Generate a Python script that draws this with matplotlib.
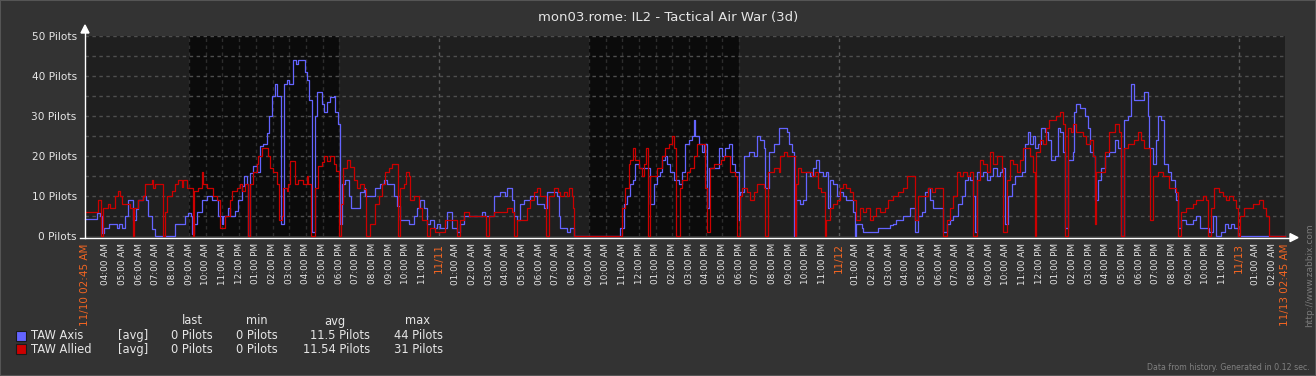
import datetime as dt
import matplotlib
matplotlib.use('Agg')
import matplotlib.pyplot as plt
from matplotlib.patches import Rectangle, Polygon
from matplotlib.lines import Line2D

W, H = 1316, 376
START = dt.datetime(2015, 11, 10, 2, 45)
SPAN_H = 72

title = 'mon03.rome: IL2 - Tactical Air War (3d)'

# hours since 11/10 02:45 AM, pilots (step breakpoints)
axis_t = [0, 0.7, 0.9, 1.04, 1.16, 1.44, 1.9, 2.04, 2.2, 2.4, 2.56, 2.9, 3.04, 3.16, 3.5,
          3.64, 3.8, 4.0, 4.2, 5.4, 6.0, 6.16, 6.36, 6.44, 6.54, 6.7, 7.0, 7.3, 7.6, 8.0,
          8.2, 8.3, 8.6, 8.7, 9.0, 9.2, 9.4, 9.56, 9.7, 9.8, 9.9, 10.1, 10.3, 10.5, 10.7,
          10.9, 11.06, 11.24, 11.4, 11.5, 11.76, 11.96, 12.1, 12.24, 12.5, 12.66, 12.8,
          13.2, 13.34, 13.46, 13.6, 13.8, 13.94, 14.2, 14.32, 14.52, 14.72, 14.92, 15.02,
          15.16, 15.28, 15.42, 15.62, 15.82, 15.96, 16.48, 16.72, 16.82, 17.42, 17.72,
          17.92, 18.12, 18.52, 18.72, 18.88, 19.42, 19.72, 19.92, 20.12, 20.32, 20.52,
          20.72, 20.92, 21.12, 21.32, 21.72, 22.02, 22.32, 22.52, 22.72, 23.82, 24.02,
          24.52, 24.92, 25.22, 25.32, 25.62, 25.72, 25.92, 26.12, 26.36, 26.72, 27.12,
          27.52, 27.72, 28.32, 28.42, 28.52, 28.92, 29.1, 29.35, 32.11, 32.31, 32.51,
          32.71, 32.87, 33.02, 33.22, 33.92, 34.12, 34.32, 34.52, 34.62, 34.82, 34.92,
          35.12, 35.32, 35.62, 35.82, 36.02, 36.22, 36.42, 36.52, 36.62, 36.82, 37.02,
          37.12, 37.33, 37.43, 38.03, 38.23, 38.43, 38.63, 38.83, 39.03, 39.23, 39.33,
          39.53, 39.83, 40.13, 40.33, 40.53, 40.73, 40.83, 41.03, 41.33, 41.63, 42.13,
          42.23, 42.4, 42.55, 42.69, 42.89, 43.09, 43.29, 43.49, 43.69, 43.89, 44.05,
          44.29, 44.49, 44.59, 44.69, 44.89, 45.09, 45.29, 45.49, 45.69, 46.09, 46.19,
          46.29, 46.59, 46.69, 47.59, 48.29, 48.49, 48.69, 49.09, 49.49, 49.82, 50.0,
          50.2, 50.4, 50.6, 50.7, 50.9, 51.5, 51.7, 51.9, 52.1, 52.4, 52.6, 52.8, 53.0,
          53.1, 53.3, 53.4, 53.5, 53.7, 53.9, 54.1, 54.3, 54.5, 54.7, 54.9, 55.0, 55.2,
          55.4, 55.6, 55.8, 56.2, 56.4, 56.6, 56.7, 56.87, 56.97, 57.17, 57.37, 57.57,
          57.77, 57.97, 58.17, 58.37, 58.47, 58.67, 58.77, 58.97, 59.27, 59.37, 59.47,
          59.67, 59.97, 60.17, 60.27, 60.47, 60.57, 60.77, 60.97, 61.17, 61.47, 61.77,
          61.97, 62.17, 62.37, 62.57, 62.77, 62.97, 63.57, 63.77, 63.87, 64.07, 64.27,
          64.37, 64.57, 64.77, 64.97, 65.17, 65.37, 65.47, 65.57, 65.77, 66.07, 66.47,
          66.67, 66.87, 67.47, 67.67, 67.87, 68.17, 68.37, 68.57, 68.77, 68.97, 69.17, 72]
axis_v = [4.2, 5.8, 5, 0.9, 2, 3, 2, 3, 2, 5, 9, 4, 6.7, 9, 10,
          9, 5, 1.7, 0, 3, 5, 5.8, 5, 0.5, 3, 6, 9, 10, 9, 5,
          3, 5, 7, 5, 6.3, 9, 12.5, 15, 13, 0, 15.8, 17.5, 16, 22.5, 23,
          25.8, 30, 35, 38, 35, 3, 38, 39, 38, 44, 43, 44,
          41, 39, 34, 1, 30, 36, 33, 31, 33.4, 34.7, 35, 31,
          28, 3, 13, 14, 10, 7, 11, 12, 10, 12, 13,
          14, 13, 10, 7.6, 4, 3, 5, 7, 9, 7, 3,
          4, 2, 3, 2, 6, 2, 1, 3, 5, 6, 5,
          10, 11, 10, 12, 9, 5, 4, 8, 9, 10, 8,
          7, 11, 10, 5, 2, 1, 2, 0, 2, 8, 10,
          13, 14, 18, 17, 8, 13, 15, 16, 19, 20, 18,
          16, 14, 13, 16, 23, 24, 25, 29, 25, 23, 21,
          23, 7, 17, 22, 20, 22, 23, 18, 16, 4, 11,
          20, 21, 20, 25, 24, 22, 12, 21, 23, 27, 26,
          23, 21, 0, 9, 8, 9, 16, 15, 17, 19, 16,
          15, 16, 7, 14, 13, 10, 11, 10, 9, 6, 0,
          3, 2, 1, 2, 2.7, 3, 4, 5, 7, 1, 5,
          6, 11, 12, 9, 7, 1, 3, 4, 5, 8, 10, 14, 15,
          14, 10, 1, 16, 15, 16, 14, 15, 17, 15, 16, 17, 3,
          10, 13, 15, 16, 23, 26, 23, 25, 22, 23, 27, 26,
          24, 19, 20, 27, 26, 21, 2, 19, 21, 31, 33,
          32, 30, 27, 21, 20, 9, 14, 17, 20, 21, 24,
          22, 0, 29, 30, 38, 34, 36, 30, 22, 18, 24,
          30, 29, 18, 16, 14, 11, 9, 2, 4, 3, 4,
          5, 2, 1, 5, 0, 1, 3, 2, 3, 2, 0, 0]

allied_t = [0, 0.8, 0.98, 1.06, 1.36, 1.5, 1.8, 1.96, 2.1, 2.2, 2.7, 2.86, 2.96, 3.2, 3.5,
            3.6, 4.0, 4.1, 4.2, 4.66, 4.8, 4.9, 5.24, 5.4, 5.6, 5.8, 5.9, 6.1, 6.46, 6.56,
            6.8, 7.0, 7.1, 7.3, 7.7, 7.9, 8.1, 8.4, 8.7, 8.8, 9.1, 9.3, 9.4, 9.6, 9.8, 9.9,
            10.1, 10.3, 10.4, 10.6, 10.96, 11.1, 11.3, 11.5, 11.64, 11.8, 11.9, 12.1, 12.2,
            12.3, 12.6, 12.8, 13.1, 13.3, 13.4, 13.56, 13.8, 14.0, 14.2, 14.32, 14.52,
            14.72, 14.92, 15.08, 15.22, 15.36, 15.48, 15.72, 15.92, 16.12, 16.32, 16.52,
            16.72, 16.86, 17.12, 17.42, 17.62, 17.82, 18.02, 18.22, 18.42, 18.76, 18.92,
            19.12, 19.28, 19.42, 19.52, 19.72, 20.02, 20.22, 20.5, 20.72, 21.02, 21.62,
            22.32, 22.52, 22.72, 23.02, 24.04, 24.24, 24.52, 25.32, 25.62, 25.74, 25.94,
            26.52, 26.72, 26.92, 27.12, 27.32, 27.64, 27.84, 28.12, 28.4, 28.51, 28.71,
            28.91, 29.01, 29.21, 29.31, 29.35, 32.22, 32.42, 32.62, 32.72, 32.88, 33.02,
            33.22, 33.42, 33.56, 33.68, 33.76, 33.92, 34.32, 34.62, 34.82, 35.02, 35.22,
            35.36, 35.48, 35.72, 35.82, 36.12, 36.32, 36.52, 36.72, 37.22, 37.33, 37.49,
            37.73, 38.13, 38.33, 38.73, 39.03, 39.13, 39.29, 39.43, 39.73, 39.93, 40.13,
            40.33, 40.73, 40.83, 40.97, 41.33, 41.63, 41.73, 41.93, 42.13, 42.6, 42.69,
            42.79, 42.99, 43.59, 43.79, 43.99, 44.19, 44.39, 44.49, 44.69, 44.89, 45.09,
            45.29, 45.49, 45.69, 45.89, 46.09, 46.29, 46.49, 46.69, 46.89, 47.09, 47.29,
            47.49, 47.69, 48.0, 48.2, 48.5, 48.8, 49.1, 49.3, 49.8, 50.0, 50.6, 50.8,
            51.0, 51.5, 51.7, 51.9, 52.1, 52.3, 52.5, 52.7, 52.9, 53.1, 53.3, 53.5, 53.7,
            53.9, 54.1, 54.3, 54.5, 54.7, 55.0, 55.1, 55.3, 55.5, 55.7, 55.9, 56.1, 56.3,
            56.7, 56.87, 56.97, 57.07, 57.27, 57.47, 57.67, 57.87, 58.27, 58.47, 58.67,
            58.77, 58.97, 59.17, 59.27, 59.47, 59.87, 60.07, 60.27, 60.47, 60.57, 60.67,
            60.97, 61.17, 61.47, 61.77, 62.07, 62.17, 62.37, 62.57, 62.97, 63.17, 63.37,
            63.57, 63.92, 64.07, 64.37, 64.67, 65.07, 65.47, 65.57, 65.77, 66.07, 66.47,
            66.67, 67.07, 67.27, 67.37, 67.57, 67.77, 68.07, 68.27, 68.47, 68.67, 68.87,
            69.07, 69.17, 69.32, 69.57, 70.07, 70.47, 70.67, 70.87, 71.07, 72]
allied_v = [6, 9, 0, 7, 8, 7, 10, 11.3, 10, 8, 7, 0, 7, 9, 10,
            13, 14, 12, 13, 0, 6, 10, 11.3, 13, 14, 12.3, 14, 12, 0, 11.3,
            12, 16, 13, 12, 10, 9, 2, 5, 9, 11.3, 12, 13, 11.3, 13, 0, 13,
            16, 18, 20, 22, 20, 17, 16, 13, 4, 5, 12, 11.3, 13,
            18.8, 13, 14, 13, 15, 13, 0, 12, 17.6, 18.5, 20, 18.8,
            20, 18, 16.3, 0, 8, 17, 19, 17.3, 14, 12, 13,
            11.8, 0, 3, 8, 10, 13, 16, 17, 18, 0, 12,
            13, 16, 15, 9, 10, 7, 4, 0, 2, 1, 4,
            0, 4, 6, 5, 0, 5, 6, 7, 6, 0, 4,
            7, 9, 11, 12, 10, 0, 10, 12, 11, 10, 11,
            10, 12, 10, 7, 0, 7, 12, 18, 19, 22, 19,
            17, 15, 18, 22, 0, 15, 17, 20, 22, 23, 25,
            22, 0, 12, 14, 16, 17, 20, 23, 12, 1, 17,
            18, 19, 20, 16, 15, 0, 10, 12, 11, 9, 11,
            13, 12, 0, 16, 17, 16, 20, 21, 20, 0, 13,
            17, 16, 15, 16, 12, 11, 0, 4, 7, 8, 9,
            12, 13, 12, 11, 9, 4, 7, 6, 7, 4, 5,
            7, 6, 7, 9, 10, 11, 12, 15, 4, 10, 12, 11,
            12, 0, 4, 7, 10, 16, 15, 16, 15, 16, 0, 14, 19,
            18, 16, 21, 18, 20, 17, 1, 14, 19, 18, 16, 19, 22,
            20, 16, 0, 21, 24, 23, 27, 29, 30, 31, 28,
            0, 27, 26, 28, 26, 25, 23, 24, 20, 3, 16,
            16, 21, 26, 28, 26, 0, 22, 23, 24, 26, 24,
            22, 4, 15, 16, 15, 12, 11, 0, 6, 7, 8,
            9, 10, 9, 0, 7, 12, 11, 10, 9, 10, 9,
            7, 0, 5, 7, 8, 9, 7, 5, 0, 0]

# 09:00-18:00 working time on 11/10 and 11/11
work_periods = [(6.25, 15.25), (30.25, 39.25)]

series_names = ['TAW Axis', 'TAW Allied']
series_colors = ['#6464ff', '#cc0000']
stat_cols = ['last', 'min', 'avg', 'max']
stats = [['0 Pilots', '0 Pilots', '11.5 Pilots', '44 Pilots'],
         ['0 Pilots', '0 Pilots', '11.54 Pilots', '31 Pilots']]

BG = '#333333'
TXT = '#e6e6e6'
ORANGE = '#f26522'
DASH = (0, (2.5, 2.5))

plt.rcParams['lines.scale_dashes'] = False


def fx(x):
    return x / W


def fy(y):
    return 1 - y / H


fig = plt.figure(figsize=(W / 100, H / 100), dpi=100, facecolor=BG)
ax = fig.add_axes([fx(85), fy(236.2), 1200 / W, 200.2 / H])
ax.set_facecolor('#1f1f1f')
for s in ax.spines.values():
    s.set_visible(False)

for a, b in work_periods:
    ax.axvspan(a, b, color='#0b0b0b', lw=0, zorder=0)

# grid: hourly lines only show up on the dark working-time bands,
# midnight lines are brighter
hours = [k + 0.25 for k in range(SPAN_H)]
for tt in hours:
    stamp = START + dt.timedelta(hours=tt)
    if stamp.hour == 0:
        ax.axvline(tt, color='#5a5a5a', lw=1, ls=DASH, zorder=1)
    elif any(a <= tt <= b for a, b in work_periods):
        ax.axvline(tt, color='#2e2e2e', lw=1, ls=DASH, zorder=1)
for v in range(5, 51, 5):
    ax.axhline(v, color='#4e4e4e', lw=1, ls=DASH, zorder=1)

ax.plot(axis_t, axis_v, drawstyle='steps-post', color=series_colors[0], lw=0.9,
        zorder=3, clip_on=False)
ax.plot(allied_t, allied_v, drawstyle='steps-post', color=series_colors[1], lw=0.9,
        zorder=4, clip_on=False)

ax.set_xlim(0, SPAN_H)
ax.set_ylim(0, 50)

# y ticks
yt = list(range(0, 51, 10))
ax.set_yticks(yt)
ax.set_yticklabels(['%d Pilots' % v for v in yt], color=TXT, fontsize=7.6)
ax.tick_params(axis='y', length=0, pad=6)

# x ticks
ticks, labels, orange = [0], [START.strftime('%m/%d %I:%M %p')], [True]
for tt in hours[1:]:
    stamp = START + dt.timedelta(hours=tt)
    ticks.append(tt)
    if stamp.hour == 0:
        labels.append(stamp.strftime('%m/%d'))
        orange.append(True)
    else:
        labels.append(stamp.strftime('%I:%M %p'))
        orange.append(False)
end = START + dt.timedelta(hours=SPAN_H)
ticks.append(SPAN_H)
labels.append(end.strftime('%m/%d %I:%M %p'))
orange.append(True)
ax.set_xticks(ticks)
ax.set_xticklabels(labels, rotation=90)
ax.tick_params(axis='x', length=0, pad=5)
for lab, o in zip(ax.get_xticklabels(), orange):
    lab.set_color(ORANGE if o else TXT)
    lab.set_fontsize(7.5 if o else 6.4)

# axes with arrows
fig.add_artist(Line2D([fx(80), fx(1290)], [fy(237.6), fy(237.6)], color='white', lw=1.0))
fig.add_artist(Line2D([fx(85), fx(85)], [fy(237.6), fy(30)], color='white', lw=1.0))
fig.add_artist(Polygon([(fx(1290), fy(233.6)), (fx(1298), fy(237.6)), (fx(1290), fy(241.6))],
                       closed=True, color='white', transform=fig.transFigure))
fig.add_artist(Polygon([(fx(81), fy(33)), (fx(85), fy(25)), (fx(89), fy(33))],
                       closed=True, color='white', transform=fig.transFigure))

fig.text(fx(668), fy(18), title, ha='center', va='center', color=TXT, fontsize=9.5)

# legend
head_x = [192, 257, 335, 418]
val_x = [213, 278, 370, 443]
for name, x in zip(stat_cols, head_x):
    fig.text(fx(x), fy(321), name, ha='center', va='center', color=TXT, fontsize=8.3)
for i, (name, col) in enumerate(zip(series_names, series_colors)):
    y = 335.7 + i * 13.5
    fig.add_artist(Rectangle((fx(16), fy(y + 5)), 10 / W, 10 / H, facecolor=col,
                             edgecolor='#1a1a1a', lw=0.8, transform=fig.transFigure))
    fig.text(fx(31), fy(y), name, ha='left', va='center', color=TXT, fontsize=8.3)
    fig.text(fx(118), fy(y), '[avg]', ha='left', va='center', color=TXT, fontsize=8.3)
    for s, x in zip(stats[i], val_x):
        fig.text(fx(x), fy(y), s, ha='right', va='center', color=TXT, fontsize=8.3)

fig.text(fx(1310), fy(367), 'Data from history. Generated in 0.12 sec.', ha='right',
         va='center', color='#808080', fontsize=5.7)
fig.text(fx(1310), fy(327), 'http://www.zabbix.com', ha='center', va='bottom',
         rotation=90, color='#7a7a7a', fontsize=6.5)

fig.add_artist(Rectangle((0, 0), 1, 1, fill=False, edgecolor='#555555', lw=1.5,
                         transform=fig.transFigure))

fig.savefig('out.png', dpi=100, facecolor=BG)
